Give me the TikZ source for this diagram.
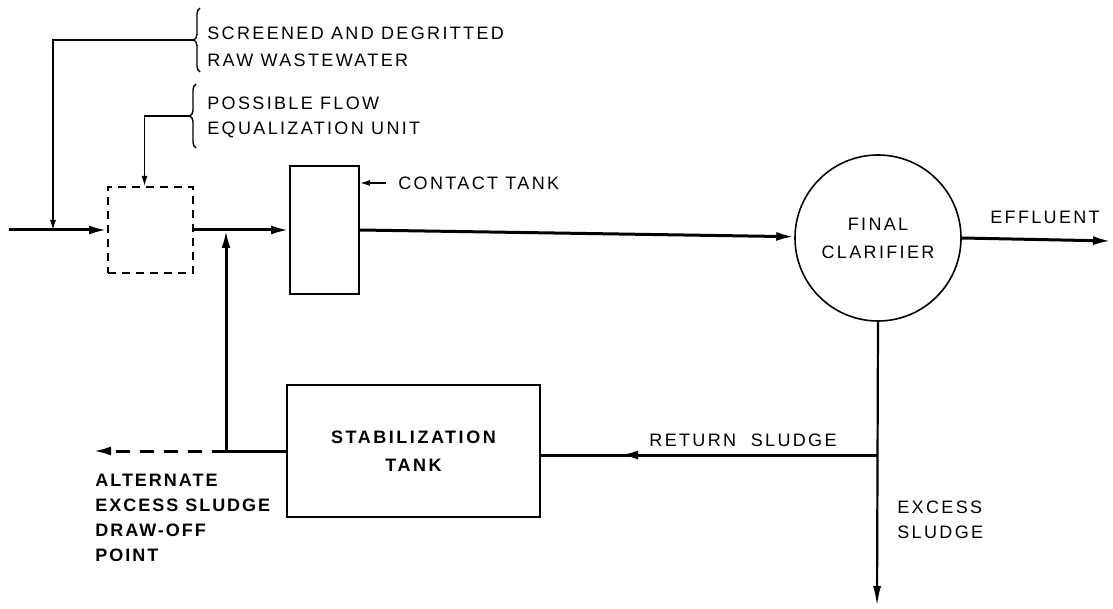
\documentclass[tikz,border=0pt]{standalone}
\usepackage{fontspec}
\setmainfont{Liberation Sans}[LetterSpace=13]
\usetikzlibrary{arrows.meta,decorations.pathreplacing}

\tikzset{
  tanque/.style={draw, line width=1pt, inner sep=0pt, align=center,
    font=\fontsize{9}{14}\selectfont},
  flujo/.style={line width=1.5pt},
  guia/.style={line width=0.7pt},
  punta/.style={-{Latex[length=9pt,width=4.5pt]}},
  puntita/.style={-{Latex[length=5pt,width=3pt]}},
  rotulo/.style={font=\fontsize{9}{12.5}\selectfont, align=left, inner sep=0pt},
  negrita/.style={font=\fontsize{9}{12.5}\selectfont\bfseries\addfontfeature{LetterSpace=11}},
  llave/.style={decorate, decoration={brace, amplitude=3pt}, line width=0.7pt}
}

\begin{document}
\begin{tikzpicture}[x=0.5pt,y=-0.5pt]
	\useasboundingbox[fill=white] (0,0) rectangle (1113,609);
	
	% Tanques
	\node[tanque, dashed, dash pattern=on 4pt off 3pt, minimum width=42.5pt, minimum height=43pt] (ecual) at (150.5,230) {};
	\node[tanque, minimum width=34.5pt, minimum height=64pt] (contacto) at (324.5,230) {};
	\node[tanque, circle, line width=0.8pt, minimum size=83pt] (clarif) at (878,238) {FINAL\\CLARIFIER};
	\node[tanque, minimum width=126.5pt, minimum height=66pt, font=\fontsize{9}{14}\selectfont\bfseries\addfontfeature{LetterSpace=14}] (estab) at (413.5,451) {STABILIZATION\\TANK};
	
	% Puntos de paso
	\coordinate (entrada) at (9,230);
	\coordinate (caida) at (53,230);
	\coordinate (codo) at (226,451);
	\coordinate (purga) at (93,451);
	\coordinate (efl) at (1111,241);
	\coordinate (union) at (877,455);
	\coordinate (retorno) at (620,455);
	\coordinate (fondo) at (877,606);
	
	% Rotulos
	\node[rotulo, anchor=north west, font=\fontsize{9}{13.5}\selectfont] (crudo) at (207,26.5) {SCREENED AND DEGRITTED\\RAW WASTEWATER};
	\node[rotulo, anchor=north west] (posible) at (207,96.5) {POSSIBLE FLOW\\EQUALIZATION UNIT};
	\node[rotulo, anchor=west] (ctxt) at (398,183) {CONTACT TANK};
	\node[rotulo] (efltxt) at (1045,217) {EFFLUENT};
	\node[rotulo] (rstxt) at (743,440) {RETURN\ \ SLUDGE};
	\node[rotulo, anchor=north west] (extxt) at (897,501) {EXCESS\\SLUDGE};
	\node[rotulo, negrita, anchor=north west] (alttxt) at (95,474) {ALTERNATE\\EXCESS SLUDGE\\DRAW-OFF\\POINT};
	
	% Llaves
	\draw[llave] (200,72) -- (200,8);
	\draw[llave] (196,148) -- (196,84);
	\coordinate (llave1) at (194,40);
	\coordinate (llave2) at (190,116);
	\draw[guia, puntita] (llave1) -| (caida);
	\draw[guia, puntita] (llave2) -| ([xshift=-3pt]ecual.north);
	\draw[guia, puntita] ([xshift=-6pt]ctxt.west) -- (ctxt.west -| contacto.east);
	
	% Flechas
	\draw[flujo, punta] (entrada) -- (ecual.west);
	\draw[flujo, punta] (ecual.east) -- (contacto.west);
	\draw[flujo, punta] (contacto.east) -- (clarif);
	\draw[flujo, punta] (clarif.east) -- (efl);
	\draw[line width=1.1pt, -{Latex[length=10pt,width=4pt]}] (clarif.south) -- (fondo);
	\draw[flujo] (union) -- (union -| estab.east);
	\draw[flujo, punta] (union) -- (retorno);
	\draw[flujo] (estab.west) -- (codo);
	\draw[flujo, punta] (codo) -- (codo |- ecual.east);
	\draw[flujo, dashed, dash pattern=on 7pt off 5pt, punta] (codo) -- (purga);
	
\end{tikzpicture}
\end{document}
